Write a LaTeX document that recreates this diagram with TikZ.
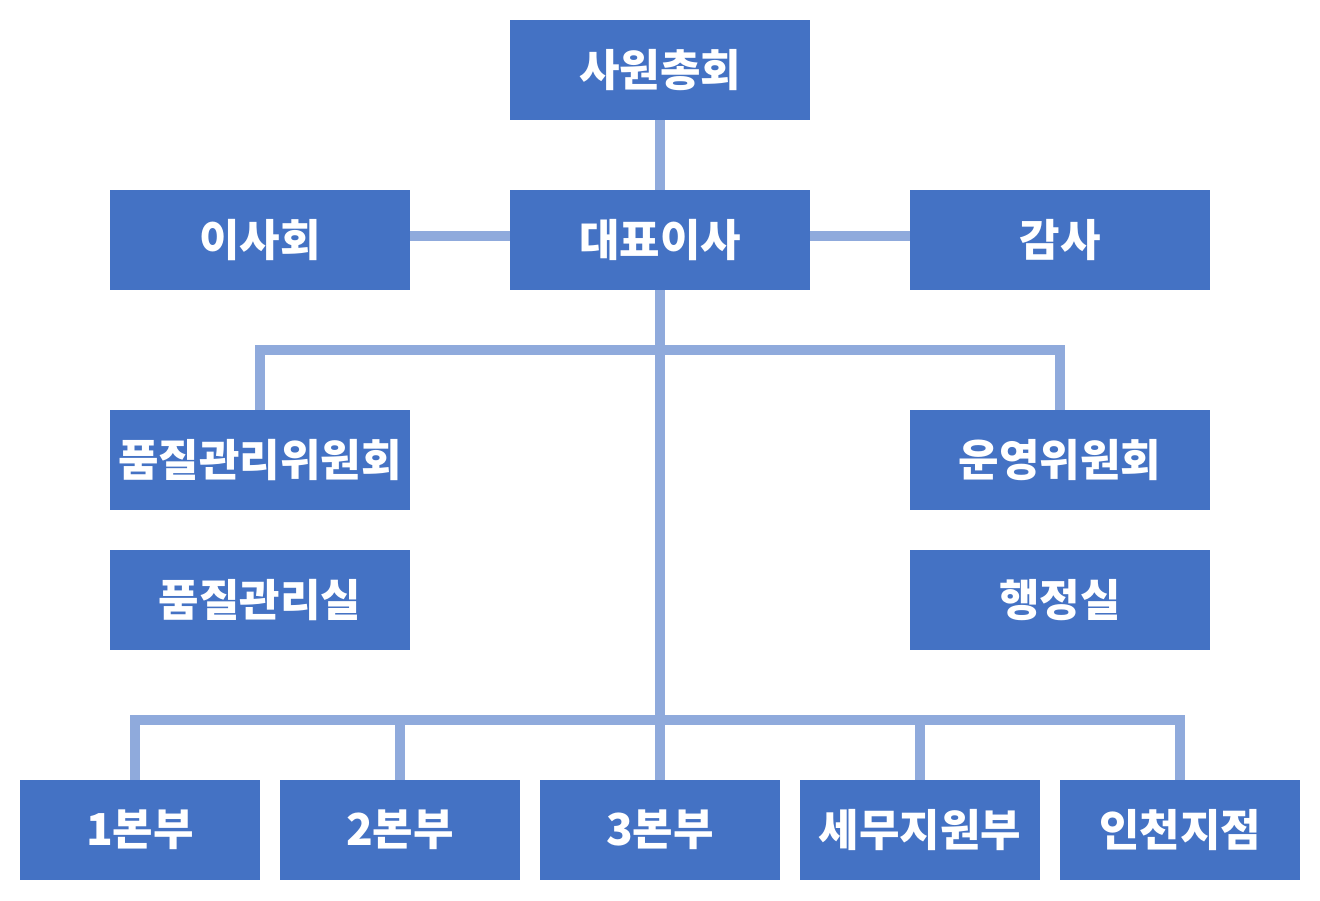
\documentclass[tikz,border=0pt]{standalone}
\usepackage{fontspec}
\newfontfamily\krfont{Noto Sans CJK KR}
\usepackage{tikz}
\definecolor{boxblue}{HTML}{4472C4}
\definecolor{lineblue}{HTML}{8FAADC}

\begin{document}
\begin{tikzpicture}[x=1pt, y=-1pt,
		unit/.style={fill=boxblue, text=white, minimum width=300pt, minimum height=100pt, inner sep=0pt,
			font=\krfont\bfseries\fontsize{44}{52}\selectfont},
		dept/.style={unit, minimum width=240pt},
		link/.style={lineblue, line width=10pt, line join=miter}]
			\useasboundingbox (0, 0) rectangle (1320, 900);
			\node [unit] (assembly) at (660, 70) {사원총회};
			\node [unit] (board) at (260, 240) {이사회};
			\node [unit] (ceo) at (660, 240) {대표이사};
			\node [unit] (audit) at (1060, 240) {감사};
			\node [unit] (qcommittee) at (260, 460) {품질관리위원회};
			\node [unit] (opcommittee) at (1060, 460) {운영위원회};
			\node [unit] (qoffice) at (260, 600) {품질관리실};
			\node [unit] (admin) at (1060, 600) {행정실};
			\node [dept] (hq1) at (140, 830) {1본부};
			\node [dept] (hq2) at (400, 830) {2본부};
			\node [dept] (hq3) at (660, 830) {3본부};
			\node [dept] (tax) at (920, 830) {세무지원부};
			\node [dept] (incheon) at (1180, 830) {인천지점};
			\coordinate (upper) at (660, 350);
			\coordinate (lower) at (660, 720);
			\draw [link] (assembly) -- (ceo);
			\draw [link] ([yshift=4pt]board.east) -- ([yshift=4pt]ceo.west);
			\draw [link] ([yshift=4pt]ceo.east) -- ([yshift=4pt]audit.west);
			\draw [link] (ceo) -- (hq3);
			\draw [link] (qcommittee.north) |- (upper) -| (opcommittee.north);
			\draw [link] ([xshift=-5pt]hq1.north) |- (lower) -| (incheon.north);
			\draw [link] (hq2.north) -- (hq2.north |- lower);
			\draw [link] (tax.north) -- (tax.north |- lower);
		\end{tikzpicture}
\end{document}
